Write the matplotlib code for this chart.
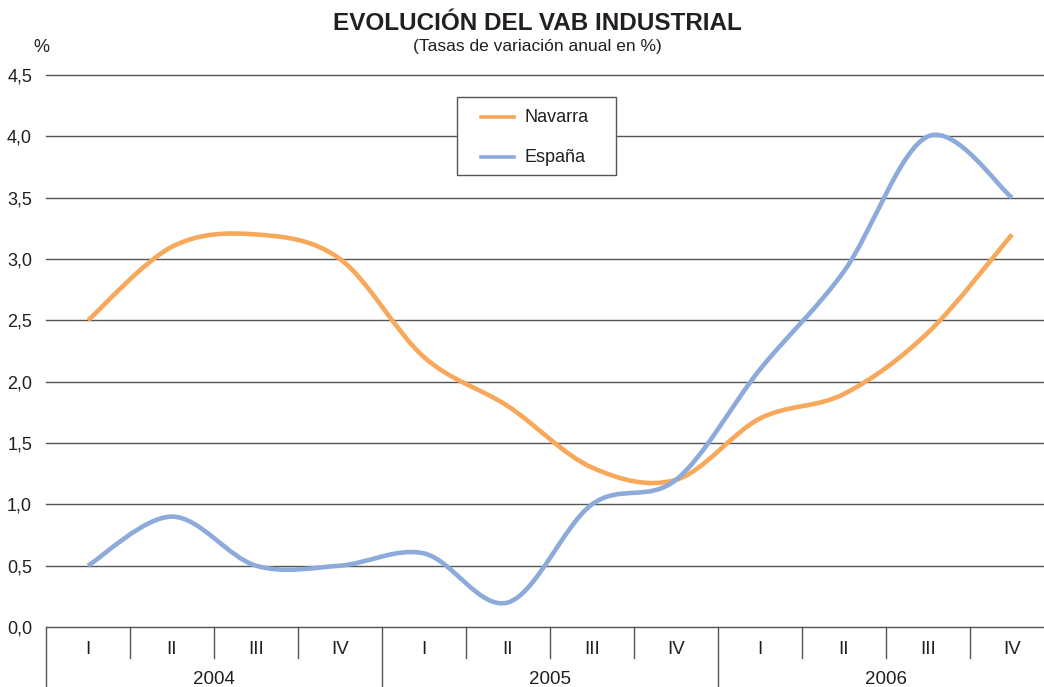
import matplotlib
matplotlib.use("Agg")
import matplotlib.pyplot as plt
from matplotlib.path import Path
from matplotlib.patches import PathPatch, Rectangle
from matplotlib.lines import Line2D
from matplotlib.ticker import FuncFormatter, MultipleLocator

plt.rcParams['font.family'] = ['Liberation Sans', 'DejaVu Sans']

# datos (tasas de variación anual, %)
quarters = ['I', 'II', 'III', 'IV'] * 3
years = ['2004', '2005', '2006']
navarra = [2.5, 3.1, 3.2, 3.0, 2.2, 1.8, 1.3, 1.2, 1.7, 1.9, 2.4, 3.2]
espana = [0.5, 0.9, 0.5, 0.5, 0.6, 0.2, 1.0, 1.2, 2.1, 2.9, 4.0, 3.5]
series_names = ['Navarra', 'España']

col_nav = '#F7A85A'
col_esp = '#8CAADA'
txt = '#231F20'
grid_col = '#555555'

W, H = 1044, 687


def smooth_path(ys):
    """Curva suavizada tipo Excel (Bezier con puntos de control Catmull-Rom)"""
    xs = list(range(len(ys)))
    pts = list(zip(xs, ys))
    verts = [pts[0]]
    codes = [Path.MOVETO]
    n = len(pts)
    for i in range(n - 1):
        p0 = pts[i - 1] if i > 0 else pts[i]
        p1 = pts[i]
        p2 = pts[i + 1]
        p3 = pts[i + 2] if i + 2 < n else pts[i + 1]
        c1 = (p1[0] + (p2[0] - p0[0]) / 6, p1[1] + (p2[1] - p0[1]) / 6)
        c2 = (p2[0] - (p3[0] - p1[0]) / 6, p2[1] - (p3[1] - p1[1]) / 6)
        verts += [c1, c2, p2]
        codes += [Path.CURVE4] * 3
    return Path(verts, codes)


def px(x, y):
    """píxeles (desde arriba-izquierda) -> fracción de figura"""
    return x / W, 1 - y / H


fig = plt.figure(figsize=(W / 100, H / 100), dpi=100)

# área del gráfico: x 46..1054 px, y 75..627 px
ax = fig.add_axes([46 / W, (H - 627) / H, 1008 / W, 552 / H])
ax.set_xlim(-0.5, len(navarra) - 0.5)
ax.set_ylim(0, 4.5)
for s in ax.spines.values():
    s.set_visible(False)
ax.yaxis.set_major_locator(MultipleLocator(0.5))
ax.yaxis.set_major_formatter(FuncFormatter(lambda v, p: f'{v:.1f}'.replace('.', ',')))
ax.tick_params(axis='y', length=0, pad=10, labelsize=13, labelcolor=txt)
ax.set_xticks([])
ax.yaxis.grid(True, color=grid_col, linewidth=1)
for gl in ax.get_ygridlines():
    gl.set_clip_on(False)
ax.set_axisbelow(True)

ax.add_patch(PathPatch(smooth_path(navarra), fill=False, edgecolor=col_nav,
                       linewidth=3.3, capstyle='butt', zorder=3))
ax.add_patch(PathPatch(smooth_path(espana), fill=False, edgecolor=col_esp,
                       linewidth=3.3, capstyle='butt', zorder=4))

# tabla de categorías bajo el eje
tab = fig.add_axes([46 / W, 0, 1008 / W, (H - 627) / H])
tab.set_xlim(-0.5, len(navarra) - 0.5)
tab.set_ylim(H - 627, 0)
tab.axis('off')
for i in range(len(quarters) + 1):
    xb = i - 0.5
    if i % 4 == 0:
        tab.plot([xb, xb], [0, 60], color=grid_col, lw=1, clip_on=False)
    else:
        tab.plot([xb, xb], [0, 31], color=grid_col, lw=1, clip_on=False)
for i, q in enumerate(quarters):
    tab.text(i, 22.5, q, ha='center', va='center', fontsize=13.5, color=txt)
for j, y in enumerate(years):
    tab.text(4 * j + 1.5, 53, y, ha='center', va='center', fontsize=13.5, color=txt)

# títulos
fig.text(*px(537, 24), 'EVOLUCIÓN DEL VAB INDUSTRIAL', ha='center', va='center',
         fontsize=17.5, fontweight='bold', color=txt)
fig.text(*px(537, 47), '(Tasas de variación anual en %)', ha='center', va='center',
         fontsize=12.5, color=txt)
fig.text(*px(41, 47), '%', ha='center', va='center', fontsize=13, color=txt)

# leyenda (caja con borde gris)
x0, y0 = px(457, 175)
x1, y1 = px(616, 97)
fig.add_artist(Rectangle((x0, y0), x1 - x0, y1 - y0, transform=fig.transFigure,
                         facecolor='white', edgecolor=grid_col, linewidth=1, zorder=5))
for name, col, yy in zip(series_names, [col_nav, col_esp], [117, 157]):
    la, lb = px(481, yy), px(514, yy)
    fig.add_artist(Line2D([la[0], lb[0]], [la[1], lb[1]], transform=fig.transFigure,
                          color=col, lw=2.6, zorder=6))
    fig.text(*px(525, yy), name, ha='left', va='center', fontsize=13, color=txt, zorder=6)

fig.savefig('out.png', dpi=100)
